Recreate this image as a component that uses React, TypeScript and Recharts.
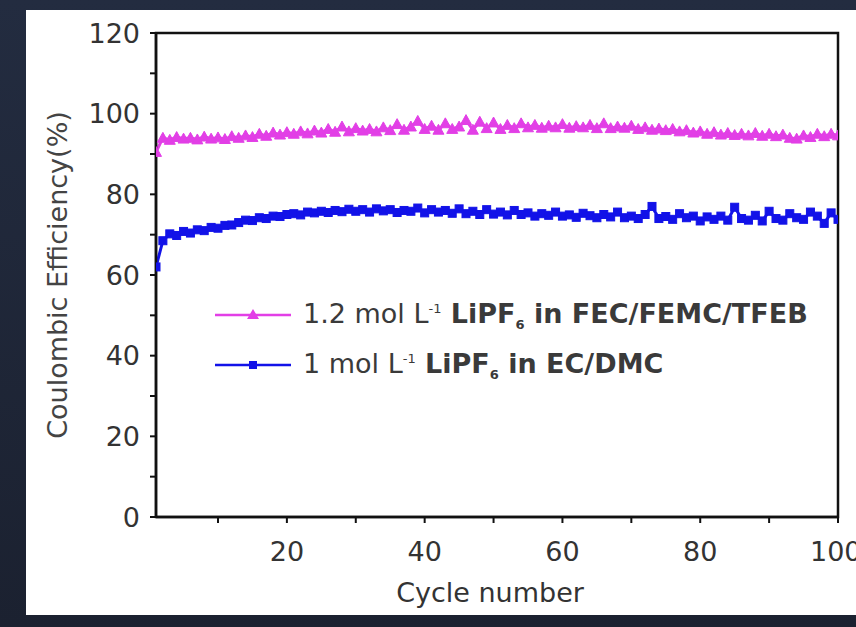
import React from 'react';
import { LineChart, Line, XAxis, YAxis, Legend, ReferenceArea } from 'recharts';

const cycles = [
  1, 2, 3, 4, 5, 6, 7, 8, 9, 10, 11, 12, 13, 14, 15, 16, 17, 18, 19, 20,
  21, 22, 23, 24, 25, 26, 27, 28, 29, 30, 31, 32, 33, 34, 35, 36, 37, 38, 39, 40,
  41, 42, 43, 44, 45, 46, 47, 48, 49, 50, 51, 52, 53, 54, 55, 56, 57, 58, 59, 60,
  61, 62, 63, 64, 65, 66, 67, 68, 69, 70, 71, 72, 73, 74, 75, 76, 77, 78, 79, 80,
  81, 82, 83, 84, 85, 86, 87, 88, 89, 90, 91, 92, 93, 94, 95, 96, 97, 98, 99, 100,
];

const fecCE = [
  90.5, 94.0, 93.5, 94.2, 93.8, 94.0, 93.6, 94.3, 93.8, 94.1,
  93.7, 94.4, 94.0, 94.6, 94.2, 95.0, 94.5, 95.3, 94.8, 95.4,
  95.0, 95.6, 95.1, 95.8, 95.3, 96.2, 95.5, 96.8, 95.6, 96.4,
  95.8, 96.2, 95.6, 96.6, 95.9, 97.4, 96.0, 96.8, 98.2, 96.2,
  97.0, 96.0, 97.6, 96.2, 96.8, 98.4, 96.0, 98.0, 96.4, 97.8,
  96.2, 97.2, 96.4, 97.6, 96.6, 97.2, 96.5, 97.0, 96.6, 97.4,
  96.5, 96.9, 96.6, 97.2, 96.4, 97.6, 96.4, 96.8, 96.5, 97.0,
  96.2, 96.6, 96.0, 96.3, 95.9, 96.2, 95.6, 95.9, 95.3, 95.6,
  95.0, 95.4, 94.8, 95.2, 94.7, 95.0, 94.6, 95.2, 94.5, 95.0,
  94.4, 94.8, 94.0, 93.8, 94.6, 94.2, 95.0, 94.4, 95.0, 94.6,
];

const ecCE = [
  62.0, 68.5, 70.2, 69.8, 70.8, 70.4, 71.2, 71.0, 71.8, 71.6,
  72.3, 72.4, 73.0, 73.6, 73.5, 74.2, 74.0, 74.6, 74.5, 75.0,
  75.2, 74.9, 75.6, 75.4, 75.8, 75.5, 76.0, 75.7, 76.3, 75.8,
  76.2, 75.6, 76.4, 75.9, 76.2, 75.5, 76.0, 75.8, 76.6, 75.4,
  76.2, 75.6, 76.0, 75.3, 76.4, 75.2, 75.8, 75.0, 76.2, 75.1,
  75.6, 74.9, 76.0, 75.0, 75.4, 74.6, 75.2, 74.8, 75.6, 74.6,
  74.9, 74.3, 75.3, 74.7, 74.2, 75.0, 74.4, 75.6, 74.2, 74.6,
  74.0, 75.0, 77.0, 74.0, 74.5, 73.8, 75.2, 74.2, 74.6, 73.4,
  74.4, 73.8, 74.6, 73.6, 76.8, 74.0, 73.6, 74.8, 73.4, 75.8,
  74.0, 73.6, 75.2, 74.2, 73.8, 75.6, 74.6, 72.8, 75.4, 73.8,
];

const yTicks = [0, 10, 20, 30, 40, 50, 60, 70, 80, 90, 100, 110, 120];
const xTicks = [10, 20, 30, 40, 50, 60, 70, 80, 90, 100];

const seriesNames = ['1.2 mol L-1 LiPF6 in FEC/FEMC/TFEB', '1 mol L-1 LiPF6 in EC/DMC'];
const legendParts: Record<string, { pre: string; sup: string; bold: string; sub: string; post: string }> = {
  [seriesNames[0]]: { pre: '1.2 mol L', sup: '-1', bold: ' LiPF', sub: '6', post: ' in FEC/FEMC/TFEB' },
  [seriesNames[1]]: { pre: '1 mol L', sup: '-1', bold: ' LiPF', sub: '6', post: ' in EC/DMC' },
};

const MAGENTA = '#e23fe6';
const BLUE = '#1212e8';
const FONT = '"DejaVu Sans", "Liberation Sans", Arial, sans-serif';

const data = cycles.map((c, i) => ({ cycle: c, fec: fecCE[i], ec: ecCE[i] }));

const Triangle = (props: any) => {
  const { cx, cy, index } = props;
  if (cx == null || cy == null) return <g key={`t-${index}`} />;
  const s = 5.5;
  return (
    <path
      key={`t-${index}`}
      d={`M${cx},${cy - s} L${cx + s},${cy + s * 0.8} L${cx - s},${cy + s * 0.8} Z`}
      fill={MAGENTA}
      stroke={MAGENTA}
      strokeWidth={1}
    />
  );
};

const Square = (props: any) => {
  const { cx, cy, index } = props;
  if (cx == null || cy == null) return <g key={`s-${index}`} />;
  const s = 4;
  return <rect key={`s-${index}`} x={cx - s} y={cy - s} width={s * 2} height={s * 2} fill={BLUE} stroke={BLUE} />;
};

const renderLegend = (props: any) => {
  const payload = [...(props.payload || [])].sort(
    (a: any, b: any) => seriesNames.indexOf(a.value) - seriesNames.indexOf(b.value)
  );
  return (
    <div style={{ fontFamily: FONT, color: '#3a3a3a' }}>
      {payload.map((entry: any) => {
        const parts = legendParts[entry.value];
        const isTri = entry.value === seriesNames[0];
        return (
          <div key={entry.value} style={{ display: 'flex', alignItems: 'center', height: 50 }}>
            <svg width={80} height={20} style={{ marginRight: 10 }}>
              <line x1={2} x2={78} y1={10} y2={10} stroke={entry.color} strokeWidth={2.5} />
              {isTri ? (
                <path d="M40,4 L46,14 L34,14 Z" fill={entry.color} />
              ) : (
                <rect x={36} y={6} width={8} height={8} fill={entry.color} />
              )}
            </svg>
            <span style={{ fontSize: 27, whiteSpace: 'nowrap' }}>
              {parts.pre}
              <sup style={{ fontSize: 13 }}>{parts.sup}</sup>
              <b>{parts.bold}</b>
              <sub style={{ fontSize: 13, fontWeight: 'bold' }}>{parts.sub}</sub>
              <b>{parts.post}</b>
            </span>
          </div>
        );
      })}
    </div>
  );
};

export default function App() {
  return (
    <div style={{ position: 'absolute', left: 0, top: 0, width: 856, height: 627, overflow: 'hidden', background: 'linear-gradient(180deg, #232c40 0%, #1b2130 100%)' }}>
      <div style={{ position: 'absolute', left: 26, top: 10, width: 830, height: 605, background: '#ffffff' }} />
      <div style={{ position: 'absolute', left: 0, top: 0 }}>
        <LineChart width={856} height={627} data={data} margin={{ top: 33, right: 18, bottom: 20, left: 52 }}>
          <XAxis
            dataKey="cycle"
            type="number"
            domain={[1, 100]}
            ticks={xTicks}
            tickFormatter={(v: number) => (v % 20 === 0 ? String(v) : '')}
            height={90}
            tickSize={6}
            tickMargin={19}
            axisLine={{ stroke: '#111', strokeWidth: 2.5 }}
            tickLine={{ stroke: '#111', strokeWidth: 2 }}
            tick={{ fill: '#333', fontSize: 27, fontFamily: FONT }}
            allowDataOverflow
            label={{ value: 'Cycle number', position: 'insideBottom', offset: 5, fill: '#333', fontSize: 27, fontFamily: FONT, dx: -7 }}
          />
          <YAxis
            type="number"
            domain={[0, 120]}
            ticks={yTicks}
            tickFormatter={(v: number) => (v % 20 === 0 ? String(v) : '')}
            width={104}
            tickSize={6}
            tickMargin={10}
            axisLine={{ stroke: '#111', strokeWidth: 2.5 }}
            tickLine={{ stroke: '#111', strokeWidth: 2 }}
            tick={{ fill: '#333', fontSize: 27, fontFamily: FONT }}
            label={{ value: 'Coulombic Efficiency(%)', angle: -90, position: 'insideLeft', offset: 5, fill: '#444', fontSize: 27, fontFamily: FONT, style: { textAnchor: 'middle' } }}
          />
          <ReferenceArea x1={1} x2={100} y1={0} y2={120} fill="none" stroke="#111" strokeWidth={2.5} />
          <Legend
            layout="vertical"
            align="center"
            verticalAlign="middle"
            content={renderLegend}
            wrapperStyle={{ left: 213, top: 290, width: 'auto' }}
          />
          <Line
            dataKey="fec"
            name={seriesNames[0]}
            stroke={MAGENTA}
            strokeWidth={3}
            dot={Triangle}
            isAnimationActive={false}
          />
          <Line
            dataKey="ec"
            name={seriesNames[1]}
            stroke={BLUE}
            strokeWidth={3}
            dot={Square}
            isAnimationActive={false}
          />
        </LineChart>
      </div>
    </div>
  );
}
